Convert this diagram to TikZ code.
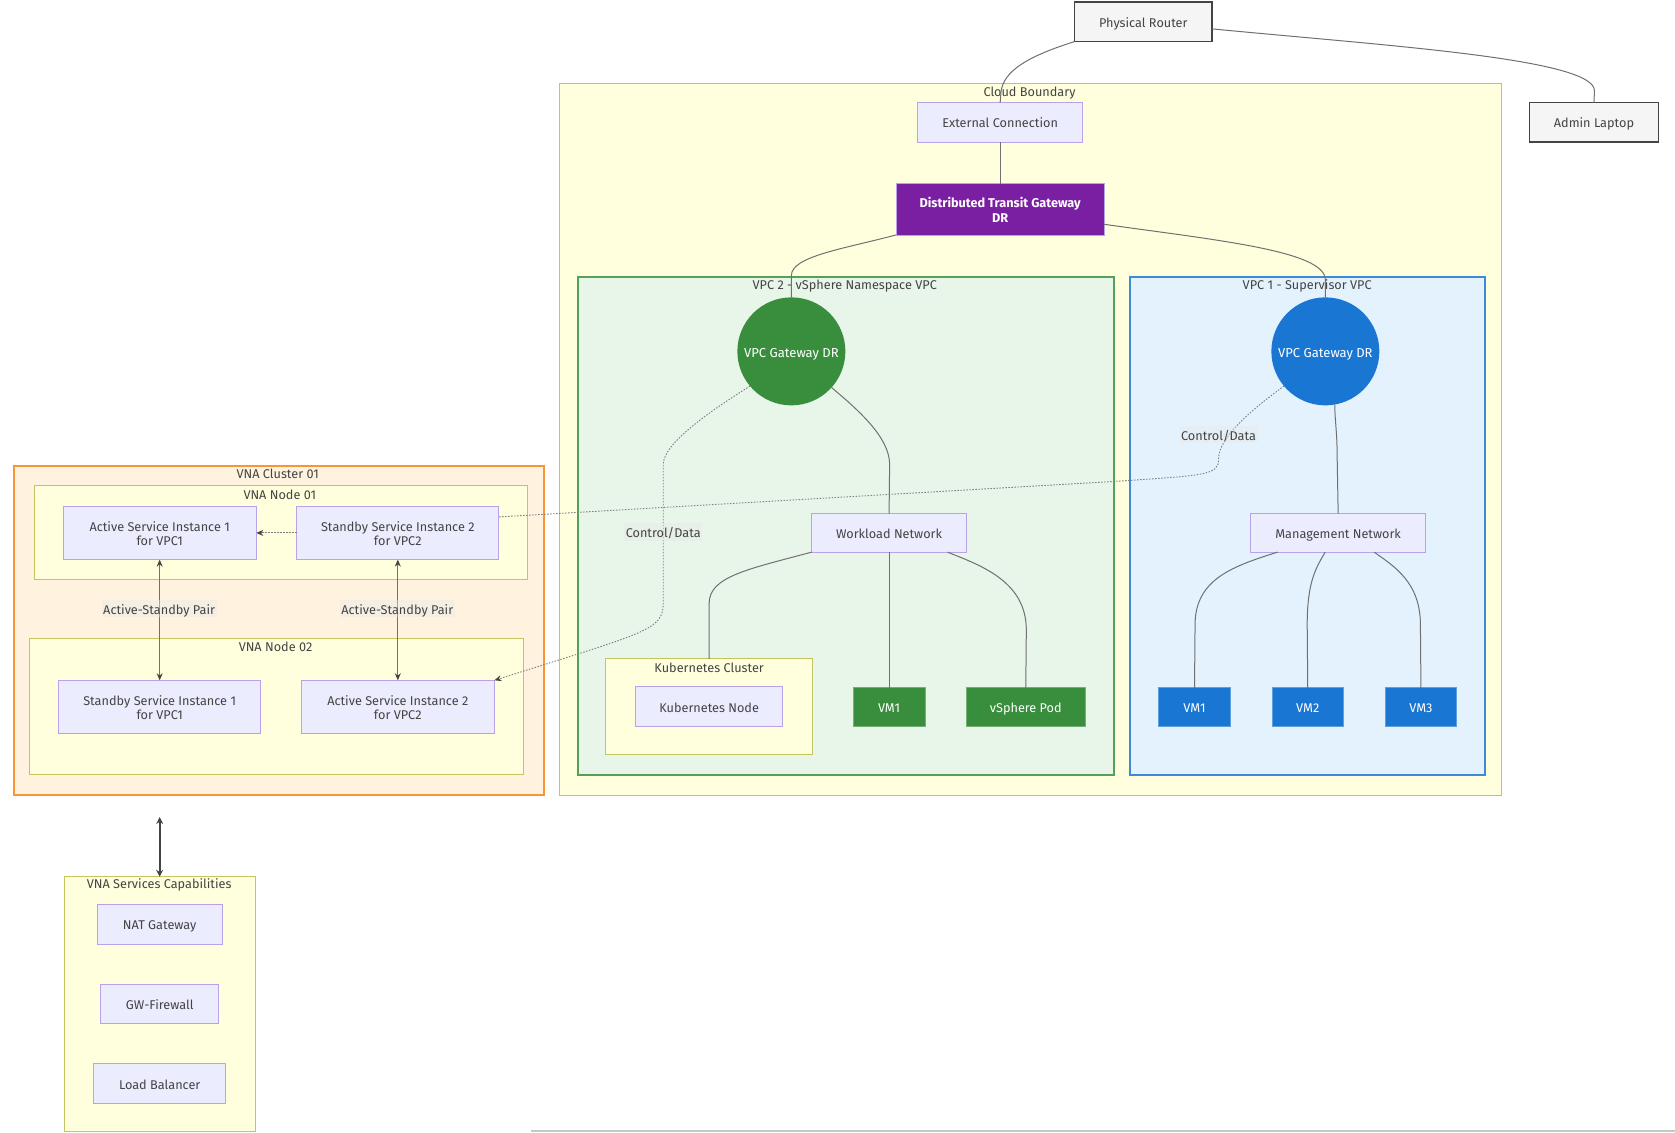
\documentclass[tikz,border=0pt]{standalone}
\usepackage{fontspec}
\setmainfont{Fira Sans}
\usetikzlibrary{arrows.meta,calc,shapes.geometric}
\definecolor{txt}{HTML}{444444}
\definecolor{clF}{HTML}{FFFFDE}\definecolor{clS}{HTML}{C4C460}
\definecolor{ndF}{HTML}{ECECFF}\definecolor{ndS}{HTML}{B9A2EA}
\definecolor{orF}{HTML}{FFF3E0}\definecolor{orS}{HTML}{F57C00}
\definecolor{grF}{HTML}{E8F5E9}\definecolor{grS}{HTML}{388E3C}
\definecolor{blF}{HTML}{E3F2FD}\definecolor{blS}{HTML}{1976D2}
\definecolor{puF}{HTML}{7B1FA2}
\definecolor{edge}{HTML}{707070}
\newcommand{\dn}[1]{\raisebox{-2.8pt}[\height][\depth]{\begin{tabular}{@{}c@{}}#1\end{tabular}}}
\newcommand{\bx}[7]{%
  \pgfmathsetmacro{\cxx}{(#3+#5)/2}\pgfmathsetmacro{\cyy}{(#4+#6)/2}%
  \pgfmathsetmacro{\wdd}{(#5-#3)*1.068}\pgfmathsetmacro{\htt}{(#6-#4)*1.068}%
  \node[#2,minimum width=\wdd pt,minimum height=\htt pt] (#1) at (\cxx,\cyy) {\dn{#7}};}
\tikzset{
  x=1.068pt,y=-1.068pt,
  base/.style={inner sep=0pt,outer sep=0pt,align=center,font=\fontsize{12.7}{14.3}\selectfont,text=txt},
  cluster/.style={base,draw=clS,fill=clF,line width=1pt},
  orcluster/.style={base,draw=orS!80,fill=orF,line width=2pt},
  grcluster/.style={base,draw=grS!85,fill=grF,line width=2pt},
  blcluster/.style={base,draw=blS!85,fill=blF,line width=2pt},
  plain box/.style={base,draw=ndS,fill=ndF,line width=1pt},
  ext box/.style={base,draw=txt,fill=black!4,line width=1.7pt},
  green box/.style={base,fill=grS,draw=grS!70,line width=.6pt,text=white},
  blue box/.style={base,fill=blS,draw=blS!70,line width=.6pt,text=white},
  purple box/.style={base,fill=puF,draw=ndS,line width=.6pt,text=white,font=\fontsize{12.7}{14.3}\selectfont\bfseries},
  round gw/.style={base,circle,text=white,minimum size=108pt,font=\fontsize{13}{14.3}\selectfont},
  title/.style={base},
  edgeline/.style={draw=edge,line width=1pt},
  dotline/.style={draw=edge!90,line width=.9pt,dash pattern=on 1.5pt off 1.5pt},
  tip/.style={-{Stealth[length=7pt,width=6pt,color=txt]}},
  tips/.style={{Stealth[length=7pt,width=6pt,color=txt]}-{Stealth[length=7pt,width=6pt,color=txt]}},
  bigtips/.style={{Stealth[length=7pt,width=7pt,color=txt]}-{Stealth[length=7pt,width=7pt,color=txt]}},
  elabel/.style={base,fill=black!9,fill opacity=.4,text opacity=1,inner sep=1.5pt},
}
\begin{document}
\begin{tikzpicture}
\useasboundingbox (0,0) rectangle (1568.4,1060);
\fill[white] (0,0) rectangle (1568.4,1060);
\fill[black!22] (497,1058) rectangle (1568.4,1060);
% clusters
\bx{cloud}{cluster}{524}{78}{1405.5}{744.7}{}
\bx{vpctwo}{grcluster}{541}{259}{1043}{725.5}{}
\bx{vpcone}{blcluster}{1058}{259}{1390.5}{725.5}{}
\bx{k8s}{cluster}{567}{617}{761}{706.5}{}
\bx{vna}{orcluster}{13}{436}{509}{744.5}{}
\bx{nodeone}{cluster}{32}{455}{494}{543}{}
\bx{nodetwo}{cluster}{28}{598}{490}{725.5}{}
\bx{caps}{cluster}{60}{821}{239}{1059.5}{}
% nodes
\bx{router}{ext box}{1006}{2}{1135}{39}{Physical Router}
\bx{laptop}{ext box}{1432}{96}{1553}{133}{Admin Laptop}
\bx{extc}{plain box}{859}{96}{1014}{133}{External Connection}
\bx{dtg}{purple box}{839}{172}{1034}{220}{Distributed Transit Gateway\\DR}
\node[round gw,fill=grS] (gwtwo) at (741,329) {\dn{VPC Gateway DR}};
\node[round gw,fill=blS] (gwone) at (1241,329) {\dn{VPC Gateway DR}};
\bx{wnet}{plain box}{760}{481}{905}{517}{Workload Network}
\bx{mnet}{plain box}{1171}{481}{1335}{517}{Management Network}
\bx{knode}{plain box}{595}{643}{733}{680}{Kubernetes Node}
\bx{gvmone}{green box}{799}{644}{866}{680}{VM1}
\bx{pod}{green box}{905}{644}{1016}{680}{vSphere Pod}
\bx{bvmone}{blue box}{1085}{644}{1152}{680}{VM1}
\bx{bvmtwo}{blue box}{1191}{644}{1258}{680}{VM2}
\bx{bvmthree}{blue box}{1297}{644}{1364}{680}{VM3}
\bx{aone}{plain box}{59}{474}{240}{524}{Active Service Instance 1\\for VPC1}
\bx{stwo}{plain box}{278}{474}{467}{524}{Standby Service Instance 2\\for VPC2}
\bx{sone}{plain box}{55}{637}{244}{687}{Standby Service Instance 1\\for VPC1}
\bx{atwo}{plain box}{282}{637}{463}{687}{Active Service Instance 2\\for VPC2}
\bx{nat}{plain box}{91}{847}{208}{884}{NAT Gateway}
\bx{fw}{plain box}{94}{922}{205}{958}{GW-Firewall}
\bx{lb}{plain box}{88}{996}{211}{1033}{Load Balancer}
% cluster titles
\node[title] (tcloud) at (964,87) {Cloud Boundary};
\node[title] (tvpctwo) at (791,268) {VPC 2 - vSphere Namespace VPC};
\node[title] (tvpcone) at (1224,268) {VPC 1 - Supervisor VPC};
\node[title] (tk8s) at (664,625.5) {Kubernetes Cluster};
\node[title] (tvna) at (260,444) {VNA Cluster 01};
\node[title] (tnodeone) at (262,463) {VNA Node 01};
\node[title] (tnodetwo) at (258,606) {VNA Node 02};
\node[title] (tcaps) at (149,829) {VNA Services Capabilities};
% edges
\draw[edgeline] (router.south west) .. controls (955,55) and (937,70) .. (937,90) -- (extc.north);
\draw[edgeline] ([yshift=-7pt]router.east) .. controls (1300,43) and (1493,55) .. (1493,85) -- (laptop.north);
\draw[edgeline] (extc.south) -- (dtg.north);
\draw[edgeline] (dtg.south west) .. controls (790,233) and (741,240) .. (741,258) -- (gwtwo.north);
\draw[edgeline] ([yshift=-15pt]dtg.east) .. controls (1140,225) and (1241,235) .. (1241,262) -- (gwone.north);
\draw[edgeline] (gwtwo.-42) .. controls (805,385) and (833,410) .. (833,435) -- (wnet.north);
\draw[edgeline] (gwone.-80) .. controls (1250,395) and (1252,405) .. (1252,425) -- (mnet.north);
\draw[edgeline] (wnet.south west) .. controls (700,533) and (664,540) .. (664,565) -- (k8s.north);
\draw[edgeline] (wnet.south) -- (gvmone.north);
\draw[edgeline] ([xshift=-19pt]wnet.south east) .. controls (920,530) and (961,545) .. (961,590) -- (pod.north);
\draw[edgeline] ([xshift=27pt]mnet.south west) .. controls (1155,530) and (1119,542) .. (1119,585) -- (bvmone.north);
\draw[edgeline] ([xshift=-13pt]mnet.south) .. controls (1232,532) and (1224,545) .. (1224,585) -- (bvmtwo.north);
\draw[edgeline] ([xshift=36pt]mnet.south) .. controls (1305,530) and (1330,545) .. (1330,585) -- (bvmthree.north);
\draw[dotline,tip] (gwtwo.220) .. controls (665,385) and (621,415) .. (621,435) -- (621,565) .. controls (621,590) and (605,592) .. (atwo.north east);
\draw[dotline] (gwone.220) .. controls (1170,385) and (1141,410) .. (1141,430) .. controls (1141,445) and (1130,445) .. (1040,451) -- ([yshift=16pt]stwo.east);
\draw[dotline,tip] (stwo.west) -- (aone.east);
\draw[edgeline,tips] (aone.south) -- (sone.north);
\draw[edgeline,tips] (stwo.south) -- (atwo.north);
\coordinate (capstop) at (149.5,765);
\draw[draw=txt,line width=2.2pt,bigtips] (capstop) -- (caps.north);
% edge labels
\node[elabel] (lone) at (149,570) {\dn{Active-Standby Pair}};
\node[elabel] (ltwo) at (372,570) {\dn{Active-Standby Pair}};
\node[elabel] (lthree) at (621,498) {\dn{Control/Data}};
\node[elabel] (lfour) at (1141,407) {\dn{Control/Data}};
\end{tikzpicture}
\end{document}
